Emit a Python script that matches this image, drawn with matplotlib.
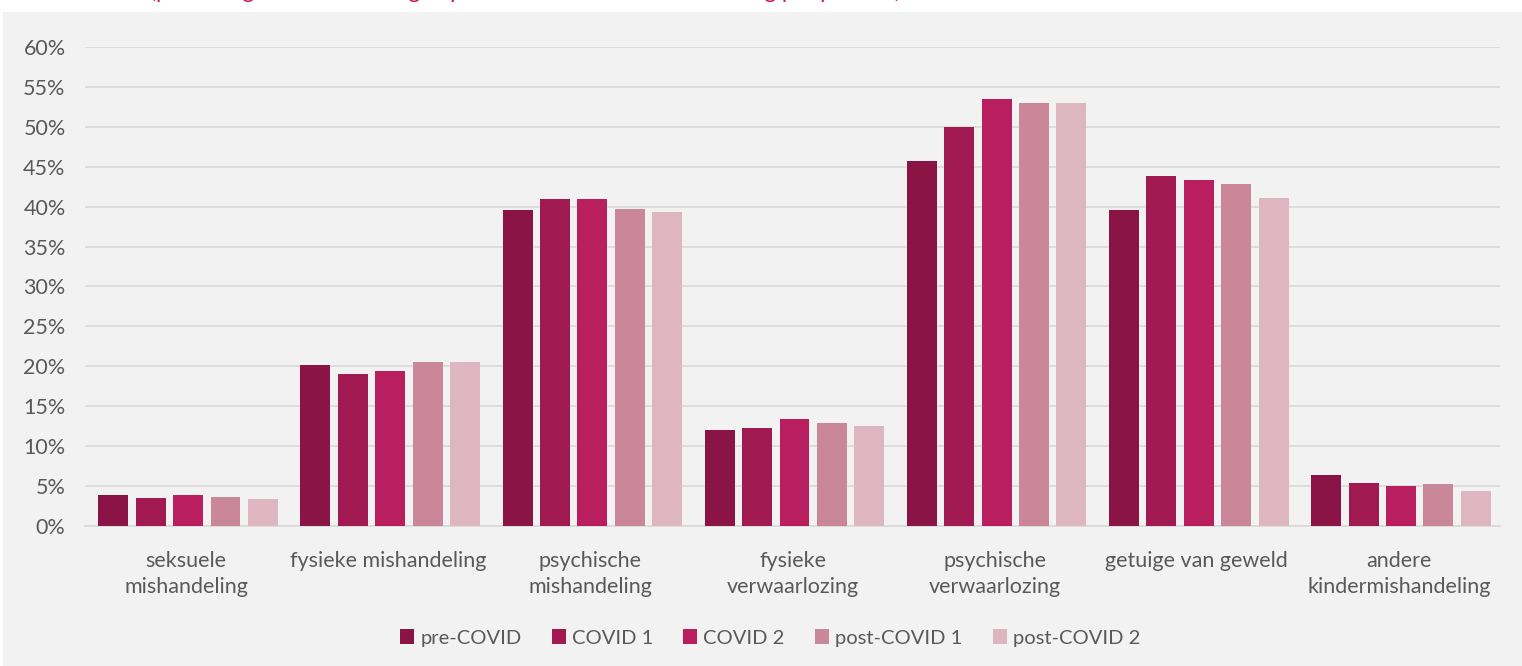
import numpy as np
import matplotlib.pyplot as plt
from matplotlib.patches import Rectangle

plt.rcParams['font.family'] = ['Lato', 'DejaVu Sans']

# categorieën en reeksen
categories = ['seksuele\nmishandeling', 'fysieke mishandeling', 'psychische\nmishandeling',
              'fysieke\nverwaarlozing', 'psychische\nverwaarlozing', 'getuige van geweld',
              'andere\nkindermishandeling']
series = ['pre-COVID', 'COVID 1', 'COVID 2', 'post-COVID 1', 'post-COVID 2']
pre_covid = [3.9, 20.2, 39.6, 12.0, 45.7, 39.6, 6.4]
covid_1 = [3.5, 19.0, 40.9, 12.3, 50.0, 43.9, 5.4]
covid_2 = [3.9, 19.4, 40.9, 13.4, 53.5, 43.4, 5.0]
post_covid_1 = [3.6, 20.5, 39.7, 12.9, 53.0, 42.9, 5.3]
post_covid_2 = [3.4, 20.5, 39.3, 12.5, 53.0, 41.1, 4.4]
yticks = [0, 5, 10, 15, 20, 25, 30, 35, 40, 45, 50, 55, 60]

colors = ['#8B1446', '#A11951', '#B91F5F', '#CB879A', '#DEB6C2']
values = [pre_covid, covid_1, covid_2, post_covid_1, post_covid_2]

W, H = 1522, 666
fig = plt.figure(figsize=(W / 100, H / 100), dpi=100)
fig.patch.set_facecolor('white')
# grijs vlak achter de grafiek
fig.patches.append(Rectangle((3 / W, 0), 1 - 3 / W, (H - 12) / H, transform=fig.transFigure,
                             facecolor='#f2f2f2', edgecolor='none', zorder=-5))
# afgesneden titel bovenaan (alleen onderkant zichtbaar)
fig.text(150 / W, 1 + 2 / H, '(percentage van de meldingen per vorm van kindermishandeling per periode)',
         color='#C8145A', fontsize=16, va='baseline', ha='left', zorder=-4)

ax = fig.add_axes([85 / W, (H - 526) / H, (1500 - 85) / W, (526 - 47) / H])
ax.set_facecolor('none')

x = np.arange(len(categories))
bw = 0.148
step = 0.185
for i, (name, vals) in enumerate(zip(series, values)):
    ax.bar(x + (i - 2) * step + 0.01, vals, width=bw, color=colors[i], label=name, zorder=3)

ax.set_xlim(-0.5, len(categories) - 0.5)
ax.set_ylim(0, 60)
ax.set_yticks(yticks)
ax.set_yticklabels([f'{t}%' for t in yticks], color='#595959', fontsize=15.5)
ax.set_xticks(x)
ax.set_xticklabels(categories, color='#595959', fontsize=15.5, linespacing=1.4)
ax.tick_params(axis='both', length=0)
ax.tick_params(axis='y', pad=14)
ax.tick_params(axis='x', pad=18)
ax.grid(axis='y', color='#d9d9d9', linewidth=1.2, zorder=0)
for s in ['top', 'right', 'left']:
    ax.spines[s].set_visible(False)
ax.spines['bottom'].set_color('#d9d9d9')
ax.spines['bottom'].set_linewidth(1.2)

leg = fig.legend(loc='center', bbox_to_anchor=(770 / W, (H - 638) / H), ncol=5, frameon=False,
                 fontsize=14.5, handlelength=0.7, handleheight=0.7, handletextpad=0.3, columnspacing=1.5)
for t in leg.get_texts():
    t.set_color('#595959')

fig.savefig('out.png', dpi=100, facecolor=fig.get_facecolor())
